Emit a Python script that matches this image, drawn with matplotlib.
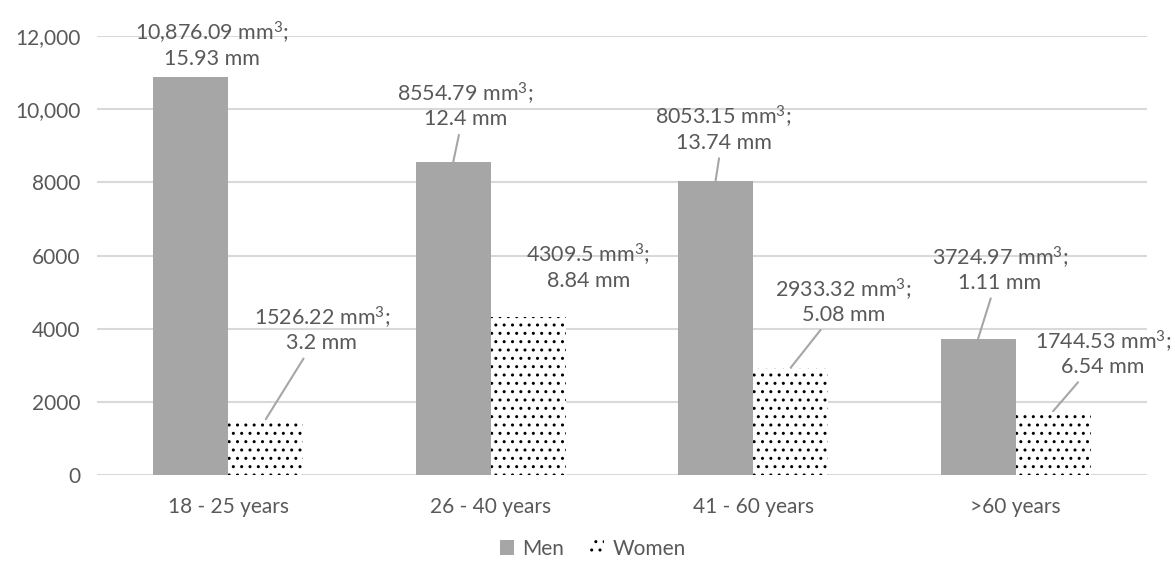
import matplotlib.pyplot as plt
import numpy as np

plt.rcParams['font.family'] = ['Lato', 'DejaVu Sans']
plt.rcParams['mathtext.fontset'] = 'custom'
plt.rcParams['mathtext.rm'] = 'Lato'
plt.rcParams['mathtext.it'] = 'Lato'

categories = ["18 - 25 years", "26 - 40 years", "41 - 60 years", ">60 years"]
men = [10876.09, 8554.79, 8053.15, 3724.97]
women = [1526.22, 4309.5, 2933.32, 1744.53]
men_labels = ["10,876.09 mm$^{3}$;\n15.93 mm", "8554.79 mm$^{3}$;\n12.4 mm",
              "8053.15 mm$^{3}$;\n13.74 mm", "3724.97 mm$^{3}$;\n1.11 mm"]
women_labels = ["1526.22 mm$^{3}$;\n3.2 mm", "4309.5 mm$^{3}$;\n8.84 mm",
                "2933.32 mm$^{3}$;\n5.08 mm", "1744.53 mm$^{3}$;\n6.54 mm"]
yticks = [0, 2000, 4000, 6000, 8000, 10000, 12000]
ytick_labels = ["0", "2000", "4000", "6000", "8000", "10,000", "12,000"]

# label offsets in pixels and whether a leader line is drawn
men_off = [(21, 33, False), (12, 57, True), (8, 52, True), (22, 70, True)]
women_off = [(56, 90, True), (60, 51, False), (53, 67, True), (50, 58, True)]

txt = '#595959'
grid = '#d9d9d9'
w = 0.286

fig = plt.figure(figsize=(11.75, 5.66), dpi=100)
ax = fig.add_axes([0.0826, 0.1608, 0.8934, 0.7752])

x = np.arange(len(categories))
ax.bar(x - w/2, men, w, color='#a6a6a6', label='Men', zorder=2)
ax.bar(x + w/2, women, w, color='white', edgecolor='black', linewidth=0,
       hatch='..', label='Women', zorder=2)

for labels, vals, offs, sign in [(men_labels, men, men_off, -1),
                                  (women_labels, women, women_off, 1)]:
    for i in range(len(vals)):
        dx, dy, lead = offs[i]
        ap = None
        if lead:
            ap = dict(arrowstyle='-', color='#a6a6a6', lw=1.5,
                      shrinkA=2, shrinkB=0)
        ax.annotate(labels[i], xy=(x[i] + sign*w/2, vals[i]),
                    xytext=(dx, dy), textcoords='offset pixels',
                    ha='center', va='center', fontsize=15.5, color=txt,
                    linespacing=1.15, arrowprops=ap, zorder=3)

ax.set_xlim(-0.5, 3.5)
ax.set_ylim(0, 12000)
ax.set_yticks(yticks)
ax.set_yticklabels(ytick_labels)
ax.set_xticks(x)
ax.set_xticklabels(categories)
ax.tick_params(length=0, labelsize=15, labelcolor=txt)
ax.tick_params(axis='y', pad=12)
ax.tick_params(axis='x', pad=16)
ax.yaxis.grid(True, color=grid, lw=1.5, zorder=0)
ax.set_axisbelow(True)
for s in ax.spines.values():
    s.set_visible(False)

leg = ax.legend(loc='center', bbox_to_anchor=(0.472, -0.168), ncol=2,
                frameon=False, fontsize=15, handlelength=0.7,
                handleheight=0.7, columnspacing=1.2, handletextpad=0.4)
for t in leg.get_texts():
    t.set_color(txt)

plt.savefig('out.png', dpi=100)
